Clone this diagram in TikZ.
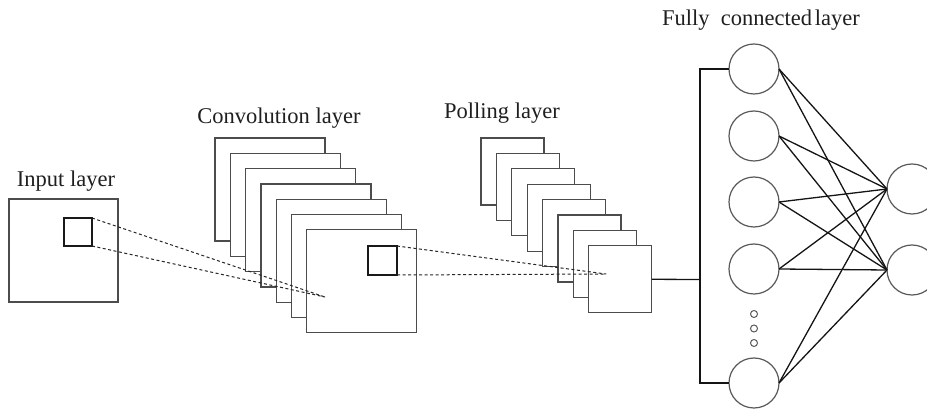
\documentclass[tikz,border=0pt]{standalone}
\usepackage{fontspec}
\setmainfont{Liberation Serif}
\begin{document}
\begin{tikzpicture}[x=1pt,y=-1pt,
  sheet/.style={draw=black!70, fill=white, line width=1.35pt, rectangle, inner sep=0pt, outer sep=0pt, anchor=north west},
  convsheet/.style={sheet, minimum width=110pt, minimum height=103pt},
  poolsheet/.style={sheet, minimum width=63pt, minimum height=67pt},
  kernel/.style={draw=black!90, fill=white, line width=1.7pt, rectangle, inner sep=0pt, outer sep=0pt, minimum size=28.5pt, anchor=north west},
  neuron/.style={draw=black!65, fill=white, line width=1.2pt, circle, inner sep=0pt, outer sep=0pt, minimum size=50pt},
  dotc/.style={draw=black!65, line width=1pt, circle, inner sep=0pt, minimum size=7pt},
  lbl/.style={font=\fontsize{22.5}{26}\selectfont, text=black!88, inner sep=0pt},
  guide/.style={dash pattern=on 3pt off 2.5pt, line width=1pt, draw=black!85},
  wire/.style={line width=1.3pt, draw=black!92}
]
\useasboundingbox (0,0) rectangle (927,419);

% labels
\node[lbl] (lin) at (66,181) {Input layer};
\node[lbl] (lconv) at (279,118) {Convolution layer};
\node[lbl] (lpool) at (502,113) {Polling layer};
\node[lbl] (lfc) at (761,20) {Fully\hspace{0.5em}connected\hspace{0.12em}layer};

% input layer
\node[sheet, minimum width=109pt, minimum height=103pt] (in) at (9,199) {};
\node[kernel, minimum size=28pt] (ink) at (64,218) {};

% convolution sheets
\foreach \i in {0,...,6} {
  \node[convsheet] (c\i) at ({215+15.3*\i},{138+15.3*\i}) {};
}
\node[kernel, minimum size=29pt] (ck) at (368,246) {};

% pooling sheets
\foreach \i in {0,...,7} {
  \node[poolsheet] (p\i) at ({481+15.4*\i},{138+15.4*\i}) {};
}

% guide lines
\coordinate (cv) at (325,297);
\coordinate (pv) at (606,274);
\draw[guide] (ink.north east) -- (cv);
\draw[guide] (ink.south east) -- (cv);
\draw[guide] (ck.north east) -- (pv);
\draw[guide] (ck.south east) -- (pv);

% fully connected
\node[neuron] (f1) at (754,69) {};
\node[neuron] (f2) at (754,136) {};
\node[neuron] (f3) at (754,202) {};
\node[neuron] (f4) at (754,269) {};
\node[neuron] (f5) at (754,383) {};
\node[neuron] (o1) at (912,189) {};
\node[neuron] (o2) at (912,270) {};
\node[dotc] (d1) at (754,314) {};
\node[dotc] (d2) at (754,328.5) {};
\node[dotc] (d3) at (754,343) {};

\coordinate (bt) at (700,69);
\coordinate (bb) at (700,383);
\coordinate (bm) at (700,279.5);
\draw[wire] (f1.west) -- (bt) -- (bb) -- (f5.west);
\draw[wire] (p7.east) -- (bm);

\foreach \a in {f1,f2,f3,f4,f5} {
  \foreach \b in {o1,o2} {
    \draw[wire] (\a.east) -- (\b.west);
  }
}
\end{tikzpicture}
\end{document}
